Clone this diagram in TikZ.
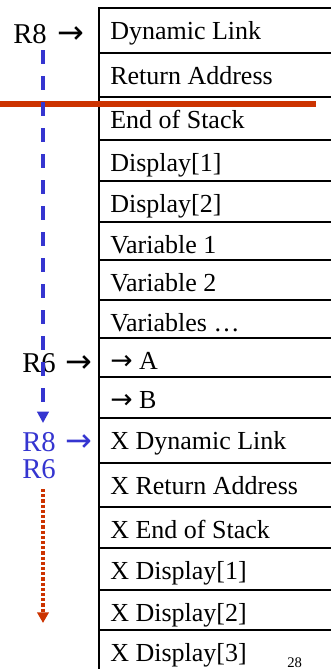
\documentclass[tikz,border=0pt]{standalone}
\usepackage{fontspec}
\setmainfont{Liberation Serif}
\newfontfamily\arrowfont{DejaVu Sans}
\usepackage{xcolor}
\usetikzlibrary{arrows.meta}
\definecolor{stackred}{HTML}{CC3300}
\definecolor{regblue}{HTML}{3535D0}
\newcommand\rarr{{\arrowfont\fontsize{20}{23}\selectfont →}}
\newcommand\regarr{{\arrowfont\fontsize{24}{23}\selectfont →}}
\tikzset{
  cellline/.style={draw=black, line width=1pt},
  celltext/.style={anchor=base west, inner sep=0pt, font=\fontsize{19.5}{23}\selectfont},
  reglabel/.style={anchor=base west, inner sep=0pt, font=\fontsize{21.5}{21}\selectfont}
}

\begin{document}
\begin{tikzpicture}[x=0.75pt,y=-0.75pt]
\useasboundingbox (0,0) rectangle (331,669);
% Draw stack cells
\foreach \top/\bot/\lbl [count=\i] in {8/53/Dynamic Link, 53/97/Return Address, 97/140/End of Stack,
    140/181/Display[1], 181/222/Display[2], 222/260/Variable 1, 260/300/Variable 2,
    300/338/Variables …, 338/377/\rarr{} A, 377/418/\rarr{} B, 418/463/X Dynamic Link,
    463/507/X Return Address, 507/548/X End of Stack, 548/590/X Display[1],
    590/630/X Display[2], 630/690/X Display[3]} {
  \draw [cellline] (99,\top) rectangle (345,\bot);
  \node [celltext] (cell\i) at (110,\top+31) {\lbl};
}

% Draw end of stack marker
\draw [stackred, line width=4.5pt] (0,104) -- (316,104);

% Draw register labels
\node [reglabel] (oldfp) at (13,43) {R8\hspace{8pt}\regarr};
\node [reglabel] (oldsp) at (22,372) {R6\hspace{7pt}\regarr};
\node [reglabel, text=regblue] (newfp) at (22,451) {R8\hspace{7pt}\regarr};
\node [reglabel, text=regblue] (newsp) at (22,478) {R6};

% Draw register moves
\coordinate (fpfrom) at (43,50);
\coordinate (fpto) at (43,423);
\draw [regblue, line width=2.8pt, dash pattern=on 10.5pt off 9pt, -{Triangle[width=8.5pt,length=8.5pt]}] (fpfrom) -- (fpto);
\coordinate (spfrom) at (43,489);
\coordinate (spto) at (43,623);
\draw [stackred, line width=2.6pt, dash pattern=on 2.4pt off 1.5pt, -{Triangle[width=8.5pt,length=8pt]}] (spfrom) -- (spto);

% Page number
\node [anchor=south west, inner sep=0pt, font=\fontsize{11}{13}\selectfont] (pagenum) at (287,668) {28};
\end{tikzpicture}
\end{document}
